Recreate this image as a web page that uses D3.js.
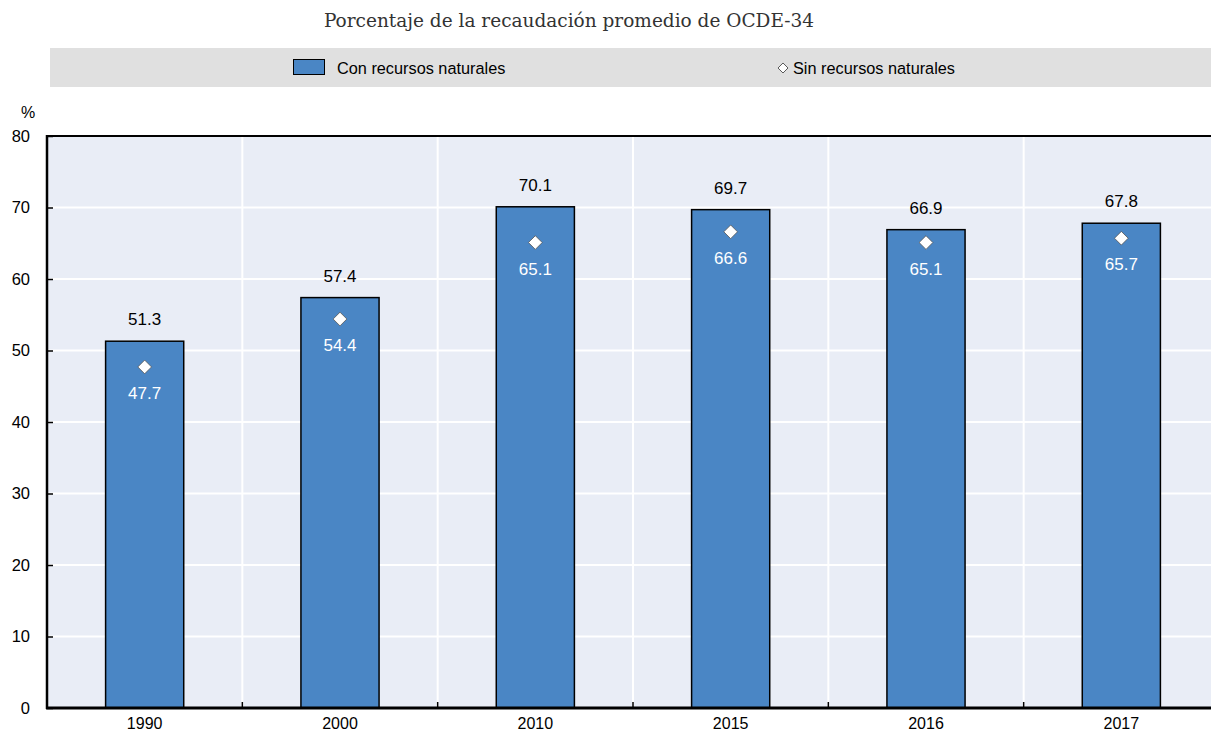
<!DOCTYPE html>
<html>
<head>
<meta charset="utf-8">
<script src="https://cdn.jsdelivr.net/npm/d3@7"></script>
<style>
  html, body { margin: 0; padding: 0; background: #fff; }
  svg { display: block; }
</style>
</head>
<body>
<svg id="chart" width="1211" height="733"></svg>
<script>
// Data
const years = ["1990", "2000", "2010", "2015", "2016", "2017"];
const withResources = [51.3, 57.4, 70.1, 69.7, 66.9, 67.8];
const withoutResources = [47.7, 54.4, 65.1, 66.6, 65.1, 65.7];
const yTicks = [0, 10, 20, 30, 40, 50, 60, 70, 80];
const titleText = "Porcentaje de la recaudación promedio de OCDE-34";
const seriesNames = ["Con recursos naturales", "Sin recursos naturales"];

const svg = d3.select("#chart");
const sans = "'Liberation Sans', Arial, sans-serif";

const plot = { left: 47, right: 1219, top: 136, bottom: 708 };

const x = d3.scaleBand().domain(years).range([plot.left, plot.right]).paddingInner(0).paddingOuter(0);
const y = d3.scaleLinear().domain([0, 80]).range([plot.bottom, plot.top]);
const barW = x.bandwidth() * 0.4;

// Title
svg.append("text")
  .attr("x", 569).attr("y", 27)
  .attr("text-anchor", "middle")
  .attr("font-family", "'DejaVu Serif', serif")
  .attr("font-size", 18.5)
  .attr("fill", "#333")
  .text(titleText);

// Legend band
svg.append("rect").attr("x", 50).attr("y", 48).attr("width", 1161).attr("height", 39).attr("fill", "#e0e0e0");
svg.append("rect").attr("x", 293.5).attr("y", 59.5).attr("width", 31).attr("height", 15)
  .attr("fill", "#4a86c5").attr("stroke", "#000").attr("stroke-width", 1);
svg.append("text").attr("x", 337).attr("y", 74)
  .attr("font-family", sans).attr("font-size", 16.3).attr("fill", "#000")
  .text(seriesNames[0]);
svg.append("path")
  .attr("d", d3.symbol().type(d3.symbolDiamond2).size(64)())
  .attr("transform", "translate(783,68)")
  .attr("fill", "#fff").attr("stroke", "#333").attr("stroke-width", 0.8);
svg.append("text").attr("x", 793).attr("y", 74)
  .attr("font-family", sans).attr("font-size", 16.3).attr("fill", "#000")
  .text(seriesNames[1]);

// Plot background
svg.append("rect")
  .attr("x", plot.left).attr("y", plot.top)
  .attr("width", plot.right - plot.left).attr("height", plot.bottom - plot.top)
  .attr("fill", "#e9edf6");

// Horizontal gridlines
svg.append("g").selectAll("line").data(yTicks.filter(d => d > 0 && d < 80)).join("line")
  .attr("x1", plot.left).attr("x2", plot.right)
  .attr("y1", d => y(d)).attr("y2", d => y(d))
  .attr("stroke", "#fff").attr("stroke-width", 2);

// Vertical gridlines at category boundaries
svg.append("g").selectAll("line").data(years.slice(1)).join("line")
  .attr("x1", d => x(d)).attr("x2", d => x(d))
  .attr("y1", plot.top).attr("y2", plot.bottom)
  .attr("stroke", "#fff").attr("stroke-width", 2);

// Bars
const cx = d => x(d) + x.bandwidth() / 2;
svg.append("g").selectAll("rect").data(years).join("rect")
  .attr("x", d => cx(d) - barW / 2)
  .attr("y", (d, i) => y(withResources[i]))
  .attr("width", barW)
  .attr("height", (d, i) => y(0) - y(withResources[i]))
  .attr("fill", "#4a86c5").attr("stroke", "#000").attr("stroke-width", 1.5);

// Labels above bars
svg.append("g").selectAll("text").data(years).join("text")
  .attr("x", cx)
  .attr("y", (d, i) => y(withResources[i]) - 16)
  .attr("text-anchor", "middle")
  .attr("font-family", sans).attr("font-size", 17).attr("fill", "#000")
  .text((d, i) => withResources[i].toFixed(1));

// Diamonds
svg.append("g").selectAll("path").data(years).join("path")
  .attr("d", d3.symbol().type(d3.symbolDiamond2).size(120)())
  .attr("transform", (d, i) => `translate(${cx(d)},${y(withoutResources[i])})`)
  .attr("fill", "#fff").attr("stroke", "#555").attr("stroke-width", 0.8);

// Labels below diamonds
svg.append("g").selectAll("text").data(years).join("text")
  .attr("x", cx)
  .attr("y", (d, i) => y(withoutResources[i]) + 32)
  .attr("text-anchor", "middle")
  .attr("font-family", sans).attr("font-size", 17).attr("fill", "#fff")
  .text((d, i) => withoutResources[i].toFixed(1));

// Top border
svg.append("line").attr("x1", plot.left).attr("x2", plot.right)
  .attr("y1", plot.top).attr("y2", plot.top)
  .attr("stroke", "#000").attr("stroke-width", 2);

// Y axis
const yAxis = svg.append("g").attr("transform", `translate(${plot.left},0)`)
  .call(d3.axisRight(y).tickValues(yTicks).tickSize(6).tickFormat(d3.format("d")));
yAxis.select(".domain").remove();
yAxis.selectAll(".tick line").attr("stroke", "#000").attr("stroke-width", 1.5);
yAxis.selectAll(".tick text")
  .attr("x", -17).attr("text-anchor", "end")
  .attr("font-family", sans).attr("font-size", 16.5).attr("fill", "#000");
svg.append("line").attr("x1", plot.left).attr("x2", plot.left)
  .attr("y1", plot.top - 1).attr("y2", plot.bottom + 1)
  .attr("stroke", "#000").attr("stroke-width", 2.5);

// X axis
const xAxis = svg.append("g").attr("transform", `translate(0,${plot.bottom})`)
  .call(d3.axisBottom(x).tickSize(0).tickPadding(10));
xAxis.select(".domain").remove();
xAxis.selectAll(".tick text")
  .attr("font-family", sans).attr("font-size", 16).attr("fill", "#000");
svg.append("g").selectAll("line").data(years.slice(1)).join("line")
  .attr("x1", d => x(d)).attr("x2", d => x(d))
  .attr("y1", plot.bottom - 6).attr("y2", plot.bottom)
  .attr("stroke", "#000").attr("stroke-width", 1.5);
svg.append("line").attr("x1", plot.left - 1).attr("x2", plot.right)
  .attr("y1", plot.bottom).attr("y2", plot.bottom)
  .attr("stroke", "#000").attr("stroke-width", 3);

// Unit label
svg.append("text").attr("x", 28).attr("y", 118)
  .attr("text-anchor", "middle")
  .attr("font-family", sans).attr("font-size", 16).attr("fill", "#000")
  .text("%");
</script>
</body>
</html>
